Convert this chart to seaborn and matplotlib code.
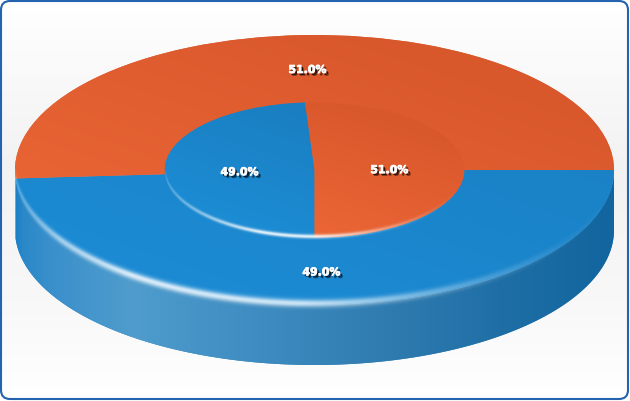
import numpy as np
import matplotlib
matplotlib.use('Agg')
import matplotlib.pyplot as plt
import matplotlib.patheffects as pe
from matplotlib.colors import LinearSegmentedColormap
from matplotlib.patches import FancyBboxPatch, Polygon
from matplotlib.transforms import IdentityTransform
import seaborn as sns

# Values
outer_values = [49.0, 51.0]
inner_values = [49.0, 51.0]
series_colors = ['#1b84c9', '#e25f31']

sns.set_theme(style='white')
palette = sns.color_palette(series_colors)

W, H = 630, 401
CX, CY, RX, RY = 314.5, 170, 299.5, 135
DEPTH = 60 / RY


def px_x(x):
    return (np.asarray(x, dtype=float) - CX) / RX


def px_y(y):
    return (CY - np.asarray(y, dtype=float)) / RY


fig = plt.figure(figsize=(W / 100, H / 100), dpi=100, facecolor='white')
ax = fig.add_axes([0, 0, 1, 1])

outer_ext = [px_x(0), px_x(W), px_y(H), px_y(0)]

# Background, white at the edges and grey in the middle
bg_cmap = LinearSegmentedColormap.from_list('bg', [(0, '#ffffff'), (0.42, '#f2f2f2'), (0.75, '#f8f8f8'), (1, '#ffffff')])
ax.imshow(np.linspace(0, 1, 256)[:, None], extent=outer_ext, cmap=bg_cmap, aspect='auto',
          origin='upper', zorder=0, interpolation='bilinear')

# Pies, squashed into ellipses once the limits are set below
outer_wedges, _, outer_txt = ax.pie(outer_values, colors=palette, startangle=0, counterclock=False,
                                    radius=1.0, autopct='%.1f%%', pctdistance=0.75,
                                    wedgeprops={'linewidth': 0, 'zorder': 1})
inner_wedges, _, inner_txt = ax.pie(inner_values, colors=palette, startangle=270, counterclock=False,
                                    radius=0.5, autopct='%.1f%%', pctdistance=0.5,
                                    wedgeprops={'linewidth': 0, 'zorder': 2})

# Side wall below the first outer slice
end = -360 * outer_values[0] / sum(outer_values)
t = np.radians(np.linspace(0, end, 200))
top_edge = np.column_stack([np.cos(t), np.sin(t)])
low_edge = top_edge[::-1] - [0, DEPTH]
wall = Polygon(np.vstack([top_edge, low_edge]), closed=True, facecolor='#2f7fb8', linewidth=0, zorder=0.5)
ax.add_patch(wall)

stops_px = [15, 22, 50, 130, 250, 400, 500, 600, 614]
stops_col = ['#1c80c6', '#2a88c9', '#3a90cb', '#4f9ccd', '#3f8dc2', '#2e7aaf', '#1f6fa6', '#13669f', '#12659e']
span = stops_px[-1] - stops_px[0]
wall_cmap = LinearSegmentedColormap.from_list(
    'wall', [((p - stops_px[0]) / span, c) for p, c in zip(stops_px, stops_col)])
wall_im = ax.imshow(np.linspace(0, 1, 512)[None, :], extent=[-1.0, 1.0, -1.5, 0.1], cmap=wall_cmap,
                    aspect='auto', zorder=0.6, interpolation='bilinear')
wall_im.set_clip_path(wall)


def shade(wedge, radius, light, dark, zorder):
    # diagonal gradient on the top face, lighter to the lower left
    xs, ys = np.meshgrid(np.linspace(-1, 1, 128), np.linspace(1, -1, 128))
    g = np.clip((xs * 0.6 + ys * 0.8) / 2 + 0.5, 0, 1)
    cmap = LinearSegmentedColormap.from_list('face', [light, dark])
    im = ax.imshow(g, extent=[-radius, radius, -radius, radius], cmap=cmap, vmin=0, vmax=1,
                   aspect='auto', zorder=zorder, interpolation='bilinear')
    im.set_clip_path(wedge)


shade(outer_wedges[0], 1.0, '#1c8bd4', '#1a7fc2', 1.1)
shade(outer_wedges[1], 1.0, '#ec6737', '#d8572b', 1.1)
shade(inner_wedges[0], 0.5, '#1c8cd4', '#1a7cbe', 2.1)
shade(inner_wedges[1], 0.5, '#ee6838', '#d8572b', 2.1)


def rim(radius, lift_px, sigma_px, taper_px, taper_a, zorder):
    # white glow following the front rim of a face, same height all along it
    xs, ys = np.meshgrid(np.linspace(-radius, radius, 1200),
                         np.linspace(0, -radius - 0.1, 500))
    edge = -np.sqrt(np.clip(1 - (xs / radius) ** 2, 0, 1)) * radius
    d = (ys - edge) * RY
    a = np.exp(-((d - lift_px) / sigma_px) ** 2) * np.interp(xs * RX + CX, taper_px, taper_a)
    rgba = np.ones(a.shape + (4,))
    rgba[..., 3] = a
    ax.imshow(rgba, extent=[-radius, radius, -radius - 0.1, 0],
              aspect='auto', zorder=zorder, interpolation='bilinear')


rim(1.0, 1.0, 3.8, [15, 60, 130, 300, 400, 480, 560, 614], [0.25, 0.6, 0.85, 0.78, 0.45, 0.22, 0.06, 0], 1.2)
rim(0.5, 1.0, 2.0, [165, 200, 260, 315, 380, 430, 464], [0.25, 0.5, 0.9, 0.9, 0.4, 0.1, 0], 2.2)

# White bold labels with a dark soft shadow
effects = [pe.SimplePatchShadow(offset=(2.0, -2.0), shadow_rgbFace='black', alpha=0.4),
           pe.SimplePatchShadow(offset=(1.4, -1.4), shadow_rgbFace='black', alpha=0.7),
           pe.Stroke(linewidth=0.5, foreground='white'),
           pe.Normal()]
for txt in outer_txt + inner_txt:
    txt.set(color='white', fontsize=7.9, fontweight='bold', family='DejaVu Sans', zorder=5, path_effects=effects)
    tx, ty = txt.get_position()
    txt.set_position((tx, ty - 1.2 / RY))

ax.set_aspect('auto')
ax.set_xlim(px_x(0), px_x(W))
ax.set_ylim(px_y(H), px_y(0))
ax.axis('off')

# Rounded frame, in figure pixels
frame = FancyBboxPatch((1, 2), W - 3, H - 3, boxstyle='round,pad=0,rounding_size=9', transform=IdentityTransform(),
                       facecolor='none', edgecolor='#2463b0', linewidth=1.5, zorder=10, clip_on=False)
fig.add_artist(frame)

fig.savefig('out.png', dpi=100)
